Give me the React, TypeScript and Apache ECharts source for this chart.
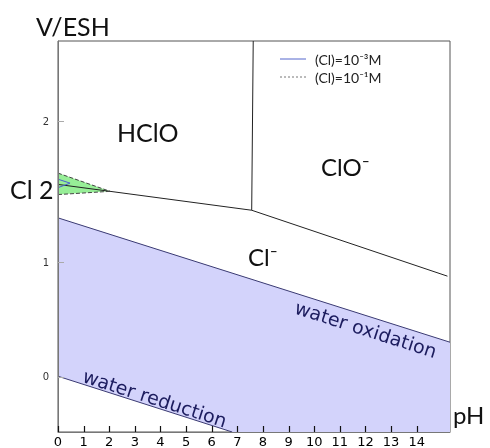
import React, { useEffect, useRef } from "react";
import * as echarts from "echarts";

// Axis ticks
const xTicks = [0, 1, 2, 3, 4, 5, 6, 7, 8, 9, 10, 11, 12, 13, 14];
const yTickValues = [0.19, 1, 2];
const yTickLabels = ["0", "1", "2"];
const Y_MIN = -0.2;
const Y_MAX = 2.57;

// Water stability lines (pH, V)
const waterOxidation = [[0, 1.317], [15.3, 0.436]];
const waterReduction = [[0, 0.195], [6.8, -0.2]];
const waterRegion = [[0, 0.195], [6.8, -0.2], [15.3, -0.2], [15.3, 0.436], [0, 1.317]];

// Chlorine species boundaries (pH, V)
const hcloClo = [[7.62, 2.57], [7.56, 1.371]];
const hcloCl = [[0, 1.554], [2.03, 1.505], [7.56, 1.371]];
const cloCl = [[7.56, 1.371], [15.2, 0.904]];
const cl2Region = [[0, 1.634], [2.03, 1.505], [0, 1.482]];
const cl2Upper = [[0, 1.634], [2.03, 1.505]];
const cl2Lower = [[0, 1.482], [2.03, 1.505]];
const cl2BlueUpper = [[0, 1.591], [0.47, 1.563]];
const cl2BlueLower = [[0, 1.531], [0.47, 1.563]];

const FONT = "Lato, 'DejaVu Sans', sans-serif";

function polygonSeries(points: number[][], fill: string, z: number) {
  return {
    type: "custom",
    silent: true,
    clip: true,
    z,
    data: [[0, 0]],
    renderItem: (_p: any, api: any) => ({
      type: "polygon",
      shape: { points: points.map((pt) => api.coord(pt)) },
      style: { fill, stroke: "none" },
    }),
  };
}

function lineSeries(data: number[][], color: string, type: string = "solid", z = 5) {
  return {
    type: "line",
    data,
    symbol: "none",
    silent: true,
    z,
    lineStyle: { color, width: 1, type },
  };
}

export default function App() {
  const ref = useRef<HTMLDivElement>(null);
  useEffect(() => {
    if (!ref.current) return;
    const chart = echarts.init(ref.current, undefined, { renderer: "svg" });
    const bigText = (text: string, x: number, y: number, size: number) => ({
      type: "text",
      x,
      y,
      style: {
        text,
        fontFamily: FONT,
        fontSize: size,
        fill: "#111",
        textAlign: "left",
        textVerticalAlign: "middle",
      },
      z: 20,
    });
    const handText = (text: string, x: number, y: number) => ({
      type: "text",
      x,
      y,
      rotation: -0.31,
      style: {
        text,
        fontFamily: "'DejaVu Sans', sans-serif",
        fontSize: 19,
        fill: "#1c1c5e",
        textAlign: "center",
        textVerticalAlign: "middle",
      },
      z: 20,
    });
    chart.setOption({
      animation: false,
      grid: {
        left: 58,
        top: 41,
        width: 392,
        height: 392,
        show: true,
        borderColor: "#555",
        borderWidth: 1,
        backgroundColor: "transparent",
      },
      xAxis: {
        type: "value",
        min: 0,
        max: 15.3,
        z: 10,
        splitLine: { show: false },
        axisLine: { show: true, onZero: false, lineStyle: { color: "#777" } },
        axisTick: { show: false },
        axisLabel: {
          customValues: xTicks,
          color: "#000",
          fontSize: 13,
          fontFamily: "'DejaVu Sans', sans-serif",
          margin: 3,
        },
      },
      yAxis: {
        type: "value",
        min: Y_MIN,
        max: Y_MAX,
        z: 10,
        splitLine: { show: false },
        axisLine: { show: true, onZero: false, lineStyle: { color: "#777" } },
        axisTick: {
          show: true,
          inside: true,
          length: 6,
          customValues: yTickValues,
          lineStyle: { color: "#aaa" },
        },
        axisLabel: {
          customValues: yTickValues,
          color: "#333",
          fontSize: 10,
          fontFamily: "'DejaVu Sans', sans-serif",
          margin: 9,
          formatter: (v: number) => {
            let best = 0;
            yTickValues.forEach((t, i) => {
              if (Math.abs(t - v) < Math.abs(yTickValues[best] - v)) best = i;
            });
            return yTickLabels[best];
          },
        },
      },
      series: [
        polygonSeries(waterRegion, "#d3d3fb", 1),
        polygonSeries(cl2Region, "#97ee97", 2),
        lineSeries(waterOxidation, "#3a3a72"),
        lineSeries(waterReduction, "#3a3a72"),
        lineSeries(hcloClo, "#222"),
        lineSeries(hcloCl, "#222"),
        lineSeries(cloCl, "#222"),
        lineSeries(cl2Upper, "#444", "dashed"),
        lineSeries(cl2Lower, "#444", "dashed"),
        lineSeries(cl2BlueUpper, "#4a5fd0"),
        lineSeries(cl2BlueLower, "#4a5fd0"),
        {
          type: "custom",
          silent: true,
          clip: false,
          z: 30,
          data: xTicks.map((v) => [v, Y_MIN]),
          renderItem: (_p: any, api: any) => {
            const pt = api.coord([api.value(0), Y_MIN]);
            const x = Math.round(pt[0]) + 0.5;
            return {
              type: "line",
              z2: 100,
              shape: { x1: x, y1: pt[1], x2: x, y2: pt[1] - 6 },
              style: { stroke: "#111", lineWidth: 1.2 },
            };
          },
        },
      ],
      graphic: [
        bigText("V/ESH", 36, 26, 25),
        bigText("HClO", 117, 132, 25),
        bigText("ClO⁻", 321, 166, 24),
        bigText("Cl⁻", 248, 256, 24),
        bigText("Cl 2", 10, 189, 25),
        bigText("pH", 453, 414, 24),
        {
          type: "line",
          shape: { x1: 280, y1: 59, x2: 306, y2: 59 },
          style: { stroke: "#5566cc", lineWidth: 1 },
          z: 20,
        },
        {
          type: "line",
          shape: { x1: 280, y1: 77, x2: 306, y2: 77 },
          style: { stroke: "#777", lineWidth: 1, lineDash: [2, 2] },
          z: 20,
        },
        {
          type: "text",
          x: 315,
          y: 59,
          style: {
            text: "(Cl)=10⁻³M",
            fontFamily: FONT,
            fontSize: 14,
            fill: "#222",
            textVerticalAlign: "middle",
          },
          z: 20,
        },
        {
          type: "text",
          x: 315,
          y: 77,
          style: {
            text: "(Cl)=10⁻¹M",
            fontFamily: FONT,
            fontSize: 14,
            fill: "#222",
            textVerticalAlign: "middle",
          },
          z: 20,
        },
        handText("water oxidation", 366, 329),
        handText("water reduction", 155, 398),
      ],
    });
    return () => chart.dispose();
  }, []);
  return (
    <div
      ref={ref}
      style={{ position: "fixed", left: 0, top: 0, width: 490, height: 448 }}
    />
  );
}
